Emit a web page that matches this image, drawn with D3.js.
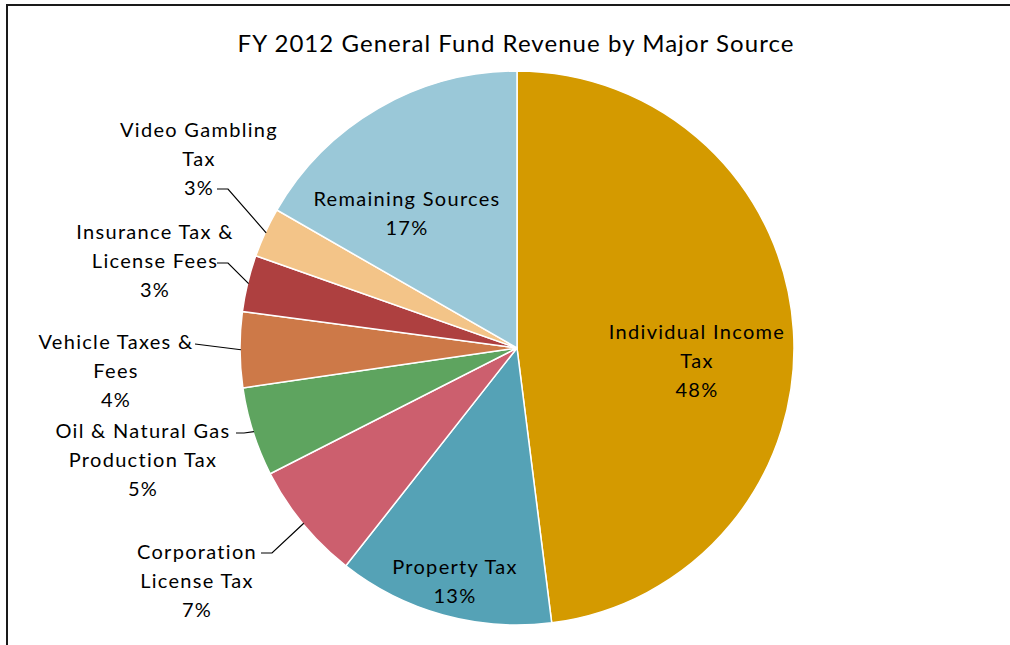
<!DOCTYPE html>
<html>
<head>
<meta charset="utf-8">
<script src="https://cdn.jsdelivr.net/npm/d3@7"></script>
<style>
  body { margin: 0; background: #fff; }
  svg text { font-family: Lato, "Liberation Sans", sans-serif; fill: #000; }
</style>
</head>
<body>
<div id="chart"></div>
<script>
// slices, clockwise from 12 o'clock
var categories = ["Individual Income Tax", "Property Tax", "Corporation License Tax",
    "Oil & Natural Gas Production Tax", "Vehicle Taxes & Fees",
    "Insurance Tax & License Fees", "Video Gambling Tax", "Remaining Sources"];
var shares = [48.0, 12.6, 6.9, 5.2, 4.4, 3.3, 2.9, 16.7];
var pctLabels = ["48%", "13%", "7%", "5%", "4%", "3%", "3%", "17%"];
var labelLines = [
    ["Individual Income", "Tax"],
    ["Property Tax"],
    ["Corporation", "License Tax"],
    ["Oil & Natural Gas", "Production Tax"],
    ["Vehicle Taxes &", "Fees"],
    ["Insurance Tax &", "License Fees"],
    ["Video Gambling", "Tax"],
    ["Remaining Sources"]
];
var colors = ["#d49a00", "#55a2b6", "#cc5f6e", "#5ea45f", "#cd7948", "#ae4040", "#f3c488", "#9ac8d8"];

// label layout (hand placed, like the original), x = text centre, y = first line
// lx/ly = start of leader line next to the text, null = label inside slice
var labelLayout = [
    {x: 697, y: 331, lx: null},
    {x: 455, y: 566, lx: null},
    {x: 197, y: 551, lx: 261, ly: 553, elbow: 11},
    {x: 143, y: 430, lx: 236, ly: 433, elbow: 8},
    {x: 116, y: 341, lx: 195, ly: 344, elbow: 0},
    {x: 155, y: 231, lx: 217, ly: 263, elbow: 11},
    {x: 199, y: 129, lx: 217, ly: 189, elbow: 11},
    {x: 407, y: 198, lx: null}
];

var width = 1010, height = 645;
var cx = 517, cy = 348, radius = 277;
var lineStep = 29;

var svg = d3.select("#chart")
    .append("svg")
    .attr("width", width)
    .attr("height", height);

// chart frame (right and bottom edges fall outside the picture)
svg.append("rect")
    .attr("x", 7)
    .attr("y", 5)
    .attr("width", 1020)
    .attr("height", 660)
    .attr("fill", "none")
    .attr("stroke", "#1a1a1a")
    .attr("stroke-width", 2);

svg.append("text")
    .attr("x", 516)
    .attr("y", 42)
    .attr("text-anchor", "middle")
    .attr("dominant-baseline", "central")
    .style("font-size", "24px")
    .style("letter-spacing", "1.05px")
    .text("FY 2012 General Fund Revenue by Major Source");

var data = categories.map(function(c, i) {
    return {name: c, value: shares[i], pct: pctLabels[i], lines: labelLines[i], color: colors[i], layout: labelLayout[i]};
});

var pie = d3.pie()
    .sort(null)
    .value(function(d) { return d.value; });

var arc = d3.arc()
    .innerRadius(0)
    .outerRadius(radius);

var edge = d3.arc()
    .innerRadius(radius - 1)
    .outerRadius(radius - 1);

var g = svg.append("g")
    .attr("transform", "translate(" + cx + "," + cy + ")");

var arcs = pie(data);

g.selectAll(".slice")
    .data(arcs)
    .enter().append("path")
    .attr("class", "slice")
    .attr("d", arc)
    .attr("fill", function(d) { return d.data.color; })
    .attr("stroke", "#fff")
    .attr("stroke-width", 1.5);

// leader lines for outside labels
arcs.forEach(function(d) {
    var L = d.data.layout;
    if (L.lx === null) return;
    var p = edge.centroid(d);
    var pts = [[L.lx, L.ly], [L.lx + L.elbow, L.ly], [p[0] + cx, p[1] + cy]];
    svg.append("path")
        .attr("d", d3.line()(pts))
        .attr("fill", "none")
        .attr("stroke", "#000")
        .attr("stroke-width", 1.2);
});

// labels
arcs.forEach(function(d) {
    var L = d.data.layout;
    var lines = d.data.lines.concat([d.data.pct]);
    var t = svg.append("text")
        .attr("text-anchor", "middle")
        .style("font-size", "20px")
        .style("letter-spacing", "1.3px");
    lines.forEach(function(s, k) {
        t.append("tspan")
            .attr("x", L.x)
            .attr("y", L.y + k * lineStep)
            .attr("dominant-baseline", "central")
            .text(s);
    });
});
</script>
</body>
</html>
